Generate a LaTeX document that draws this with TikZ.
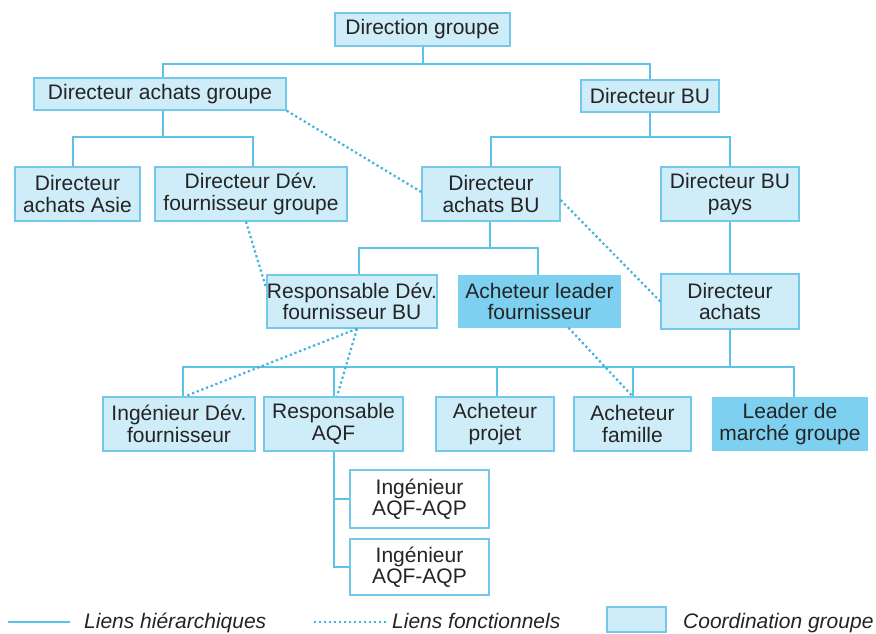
\documentclass[tikz,border=0pt]{standalone}
\usepackage{fontspec}
\setmainfont{Liberation Sans}
\begin{document}
\definecolor{linkblue}{HTML}{5CC3E8}
\definecolor{dotblue}{HTML}{3FB2DF}
\definecolor{boxline}{HTML}{74C9EA}
\definecolor{lightfill}{HTML}{CFECF9}
\definecolor{darkfill}{HTML}{7DD0F0}
\definecolor{ink}{HTML}{242424}
\begin{tikzpicture}[x=1pt,y=-1pt,
  unit/.style={draw=boxline,line width=1.4pt,fill=lightfill,inner sep=0pt,
    align=center,text=ink,font=\fontsize{21}{21.5}\selectfont},
  leadunit/.style={unit,fill=darkfill,draw=darkfill},
  plainunit/.style={unit,fill=white},
  hier/.style={draw=linkblue,line width=2pt},
  func/.style={draw=dotblue,line width=2.2pt,dash pattern=on 2.2pt off 2.8pt},
  legendtext/.style={anchor=base west,inner sep=0pt,text=ink,font=\fontsize{21}{21}\selectfont\itshape}]
\useasboundingbox (0,0) rectangle (876,633);

% boxes: level 1 and 2
\node[unit,minimum width=175pt,minimum height=33pt] (dg) at (422.5,29.5) {Direction groupe};
\node[unit,minimum width=252pt,minimum height=32pt] (dag) at (160,94) {Directeur achats groupe};
\node[unit,minimum width=138pt,minimum height=32pt] (dbu) at (650,96) {Directeur BU};

% level 3
\node[unit,minimum width=125pt,minimum height=54pt] (daa) at (77.5,194) {Directeur\\achats Asie};
\node[unit,minimum width=192pt,minimum height=54pt] (ddfg) at (251,194) {Directeur Dév.\\fournisseur groupe};
\node[unit,minimum width=138pt,minimum height=54pt] (dabu) at (491,194) {Directeur\\achats BU};
\node[unit,minimum width=138pt,minimum height=54pt] (dbup) at (730,194) {Directeur BU\\pays};

% level 4
\node[unit,minimum width=160pt,minimum height=53pt] (rdfbu) at (352,301.5) {Responsable Dév.\\fournisseur BU};
\node[leadunit,minimum width=161pt,minimum height=51pt] (alf) at (539.5,301.5) {Acheteur leader\\fournisseur};
\node[unit,minimum width=138pt,minimum height=55pt] (da) at (730,301.5) {Directeur\\achats};

% level 5
\node[unit,minimum width=152pt,minimum height=54pt] (idf) at (179,424) {Ingénieur Dév.\\fournisseur};
\node[unit,minimum width=139pt,minimum height=54pt] (raqf) at (333.5,424) {Responsable\\AQF};
\node[unit,minimum width=118pt,minimum height=54pt] (ap) at (495,424) {Acheteur\\projet};
\node[unit,minimum width=117pt,minimum height=54pt] (af) at (632.5,424) {Acheteur\\famille};
\node[leadunit,minimum width=154pt,minimum height=52pt] (lmg) at (790,424) {Leader de\\marché groupe};

% level 6
\node[plainunit,minimum width=139pt,minimum height=58pt] (iaq1) at (419.5,499) {Ingénieur\\AQF-AQP};
\node[plainunit,minimum width=139pt,minimum height=56pt] (iaq2) at (419.5,567) {Ingénieur\\AQF-AQP};

% hierarchical links
\path (dg.south) ++(0,17.5) coordinate (j1);
\draw[hier] (dg.south) -- (j1);
\draw[hier] ([xshift=3pt]dag.north) |- (j1) -| (dbu.north);

\path (dag.south) ++(0,26) coordinate (j2);
\draw[hier] ([xshift=3pt]dag.south) -- ([xshift=3pt]j2);
\draw[hier] ([xshift=-4.5pt]daa.north) |- ([xshift=3pt]j2) -| ([xshift=2pt]ddfg.north);

\path (dbu.south) ++(0,24) coordinate (j3);
\draw[hier] (dbu.south) -- (j3);
\draw[hier] (dabu.north) |- (j3) -| (dbup.north);

\path (dabu.south) ++(0,26) coordinate (j4);
\draw[hier] ([xshift=-1pt]dabu.south) -- ([xshift=-1pt]j4);
\draw[hier] ([xshift=7pt]rdfbu.north) |- ([xshift=-1pt]j4) -| ([xshift=-1.5pt]alf.north);

\draw[hier] (dbup.south) -- (da.north);

\path (da.south) ++(0,37) coordinate (j5);
\draw[hier] (da.south) -- (j5);
\draw[hier] ([xshift=4pt]idf.north) |- (j5) -| ([xshift=4pt]lmg.north);
\draw[hier] ([xshift=0.5pt]raqf.north) -- ([xshift=0.5pt]raqf.north |- j5);
\draw[hier] ([xshift=2pt]ap.north) -- ([xshift=2pt]ap.north |- j5);
\draw[hier] ([xshift=0.5pt]af.north) -- ([xshift=0.5pt]af.north |- j5);

\draw[hier] ([xshift=0.5pt]raqf.south) |- (iaq2.west);
\draw[hier] ([xshift=0.5pt]raqf.south |- iaq1.west) -- (iaq1.west);

% functional links
\draw[func] (dag.south east) -- ([yshift=2pt]dabu.west);
\draw[func] ([xshift=-5pt]ddfg.south) -- ([yshift=13pt]rdfbu.west);
\draw[func] ([yshift=-6pt]dabu.east) -- (da.west);
\draw[func] ([xshift=5pt]rdfbu.south) -- ([xshift=6pt]idf.north);
\draw[func] ([xshift=5pt]rdfbu.south) -- ([xshift=3.5pt]raqf.north);
\draw[func] ([xshift=29pt]alf.south) -- (af.north);

% legend
\coordinate (lg1a) at (8,622);
\coordinate (lg1b) at (70,622);
\draw[hier,line width=2.4pt] (lg1a) -- (lg1b);
\node[legendtext] (lt1) at (84,628) {Liens hiérarchiques};
\coordinate (lg2a) at (314,622);
\coordinate (lg2b) at (387,622);
\draw[func] (lg2a) -- (lg2b);
\node[legendtext] (lt2) at (392,628) {Liens fonctionnels};
\node[unit,minimum width=59pt,minimum height=25pt] (lbox) at (636.5,619.5) {};
\node[legendtext] (lt3) at (683,628) {Coordination groupe};
\end{tikzpicture}
\end{document}
